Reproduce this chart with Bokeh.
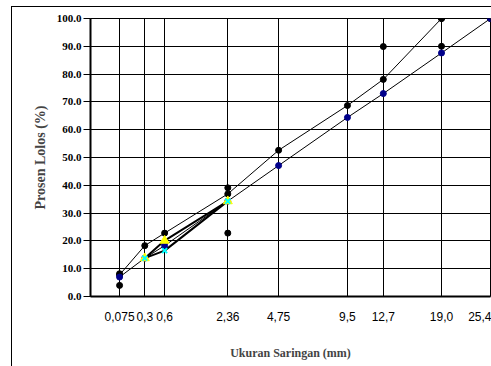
import numpy as np
from bokeh.plotting import figure
from bokeh.models import Range1d, FixedTicker, PrintfTickFormatter, InlineStyleSheet
from bokeh.embed import file_html
from bokeh.resources import INLINE

# ---- data ----
sieve_mm = [0.075, 0.3, 0.6, 2.36, 4.75, 9.5, 12.7, 19.0, 25.4]
sieve_labels = ["0,075", "0,3", "0,6", "2,36", "4,75", "9,5", "12,7", "19,0", "25,4"]
y_ticks = [0, 10, 20, 30, 40, 50, 60, 70, 80, 90, 100]

series_a = [7.8, 18.3, 22.8, 36.9, 52.6, 68.7, 78.1, 100.0, 100.0]
series_b = [7.0, 13.8, 18.3, 34.3, 47.1, 64.4, 73.0, 87.6, 100.0]

fine_mm = [0.3, 0.6, 2.36]
series_c = [13.8, 20.1, 34.3]
series_d = [13.8, 16.5, 34.3]

spec_upper_mm = [0.075, 2.36, 12.7, 19.0, 25.4]
spec_upper = [8.2, 39.1, 89.9, 100.0, 100.0]
spec_lower_mm = [0.075, 2.36, 19.0]
spec_lower = [4.0, 22.8, 90.0]

EXP = 0.45  # gradation-chart power scale (sieve size ^ 0.45)


def tx(v):
    return (np.asarray(v, dtype=float) ** EXP).tolist()


xt = tx(sieve_mm)

css = InlineStyleSheet(css="""
:host::after {
  content: '';
  position: absolute;
  left: 11px; top: 6px; right: 0px; bottom: 0px;
  border-left: 1.5px solid black;
  border-top: 1.5px solid black;
  pointer-events: none;
}
""")

p = figure(width=491, height=366, output_backend="svg", toolbar_location=None,
           x_range=Range1d(0, 25.4 ** EXP), y_range=Range1d(0, 100),
           min_border_left=90, min_border_right=1, min_border_top=18,
           min_border_bottom=70, background_fill_color="white",
           border_fill_color="white")
p.stylesheets = [css]
p.outline_line_color = "black"
p.outline_line_width = 1

# axes
p.xaxis.ticker = FixedTicker(ticks=xt)
p.xaxis.major_label_overrides = {t: l for t, l in zip(xt, sieve_labels)}
p.xaxis.major_tick_out = 0
p.xaxis.major_tick_in = 0
p.xaxis.minor_tick_out = 0
p.xaxis.minor_tick_in = 0
p.xaxis.major_label_standoff = 15
p.xaxis.major_label_text_font = "Liberation Sans"
p.xaxis.major_label_text_font_size = "12px"
p.xaxis.major_label_text_color = "black"
p.xaxis.axis_label = "Ukuran Saringan (mm)"
p.xaxis.axis_label_text_font = "Liberation Serif"
p.xaxis.axis_label_text_font_style = "bold"
p.xaxis.axis_label_text_font_size = "12px"
p.xaxis.axis_label_standoff = 22
p.xaxis.axis_line_width = 2
p.xaxis.axis_line_color = "black"

p.yaxis.ticker = FixedTicker(ticks=y_ticks)
p.yaxis.formatter = PrintfTickFormatter(format="%.1f")
p.yaxis.major_tick_out = 7
p.yaxis.major_tick_in = 0
p.yaxis.minor_tick_out = 0
p.yaxis.minor_tick_in = 0
p.yaxis.major_tick_line_color = "black"
p.yaxis.major_label_standoff = 2
p.yaxis.major_label_text_font = "Liberation Serif"
p.yaxis.major_label_text_font_style = "bold"
p.yaxis.major_label_text_font_size = "11px"
p.yaxis.major_label_text_color = "black"
p.yaxis.axis_label = "Prosen Lolos (%)"
p.yaxis.axis_label_text_font = "Liberation Serif"
p.yaxis.axis_label_text_font_style = "bold"
p.yaxis.axis_label_text_font_size = "14px"
p.yaxis.axis_label_standoff = 6
p.yaxis.axis_line_width = 2
p.yaxis.axis_line_color = "black"

p.xgrid.grid_line_color = "black"
p.xgrid.grid_line_width = 1
p.ygrid.grid_line_color = "black"
p.ygrid.grid_line_width = 1

# lines
p.line(xt, series_a, line_color="black", line_width=1)
p.line(xt, series_b, line_color="black", line_width=1)
p.line(tx(fine_mm), series_c, line_color="black", line_width=2)
p.line(tx(fine_mm), series_d, line_color="black", line_width=2)

# markers
p.scatter(tx(spec_upper_mm), spec_upper, marker="circle", size=6,
          fill_color="black", line_color="black")
p.scatter(tx(spec_lower_mm), spec_lower, marker="circle", size=6,
          fill_color="black", line_color="black")
p.scatter(xt, series_a, marker="circle", size=6, fill_color="black", line_color="black")
p.scatter(xt, series_b, marker="circle", size=6, fill_color="#00008B", line_color="#00008B")
p.scatter(tx(fine_mm), series_c, marker="triangle", size=9, fill_color="#FFFF00",
          line_color="#FFFF00")
p.scatter(tx(fine_mm), series_d, marker="x", size=7, line_color="#00FFFF", line_width=2)

open("out.html", "w").write(file_html(p, INLINE))
